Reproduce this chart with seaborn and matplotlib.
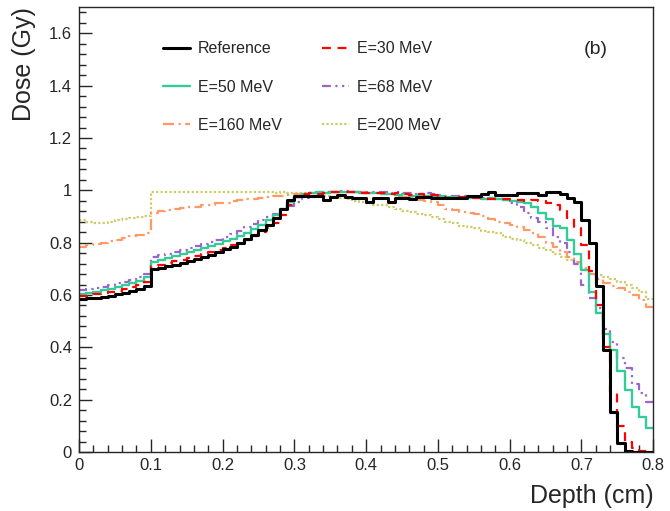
import numpy as np
import pandas as pd
import matplotlib
matplotlib.use('Agg')
import matplotlib.pyplot as plt
from matplotlib.lines import Line2D
from matplotlib.ticker import MultipleLocator, FormatStrFormatter
import seaborn as sns

# Binning: 80 bins of 0.01 cm between 0 and 0.8 cm
n_bins = 80
depth_range = (0, 0.8)
bin_centers = np.arange(n_bins) * 0.01 + 0.005

# Dose per bin (Gy)
dose_reference = [0.585, 0.588, 0.590, 0.594, 0.598, 0.603, 0.608, 0.614, 0.622, 0.633,
                  0.698, 0.703, 0.710, 0.716, 0.722, 0.730, 0.737, 0.745, 0.753, 0.764,
                  0.775, 0.785, 0.800, 0.815, 0.830, 0.848, 0.868, 0.895, 0.930, 0.962,
                  0.977, 0.977, 0.977, 0.977, 0.962, 0.974, 0.981, 0.975, 0.970, 0.970,
                  0.955, 0.970, 0.970, 0.955, 0.970, 0.970, 0.968, 0.974, 0.974, 0.972,
                  0.970, 0.972, 0.970, 0.972, 0.980, 0.980, 0.985, 0.993, 0.981, 0.981,
                  0.983, 0.988, 0.988, 0.988, 0.981, 0.993, 0.993, 0.985, 0.970, 0.955,
                  0.886, 0.797, 0.634, 0.389, 0.154, 0.035, 0.005, 0.0, 0.0, 0.0]
dose_30 = [0.595, 0.598, 0.602, 0.606, 0.611, 0.616, 0.622, 0.630, 0.638, 0.648,
           0.712, 0.716, 0.722, 0.728, 0.735, 0.742, 0.750, 0.757, 0.765, 0.772,
           0.780, 0.790, 0.800, 0.812, 0.825, 0.840, 0.855, 0.875, 0.905, 0.945,
           0.975, 0.985, 0.990, 0.985, 0.990, 0.992, 0.995, 0.993, 0.992, 0.990,
           0.990, 0.988, 0.990, 0.985, 0.988, 0.985, 0.983, 0.985, 0.980, 0.982,
           0.975, 0.972, 0.972, 0.975, 0.970, 0.972, 0.968, 0.968, 0.965, 0.965,
           0.962, 0.962, 0.960, 0.962, 0.960, 0.950, 0.945, 0.925, 0.895, 0.855,
           0.790, 0.690, 0.560, 0.400, 0.230, 0.100, 0.040, 0.015, 0.005, 0.002]
dose_50 = [0.605, 0.608, 0.612, 0.618, 0.624, 0.630, 0.638, 0.646, 0.655, 0.668,
           0.726, 0.733, 0.740, 0.748, 0.756, 0.765, 0.772, 0.780, 0.788, 0.796,
           0.805, 0.815, 0.826, 0.838, 0.852, 0.866, 0.885, 0.905, 0.930, 0.955,
           0.975, 0.985, 0.990, 0.992, 0.990, 0.995, 0.995, 0.993, 0.992, 0.990,
           0.988, 0.990, 0.985, 0.985, 0.983, 0.985, 0.980, 0.982, 0.980, 0.978,
           0.978, 0.975, 0.975, 0.972, 0.970, 0.970, 0.968, 0.970, 0.965, 0.962,
           0.960, 0.955, 0.950, 0.935, 0.915, 0.890, 0.862, 0.855, 0.810, 0.755,
           0.695, 0.610, 0.530, 0.450, 0.390, 0.310, 0.237, 0.173, 0.135, 0.090]
dose_68 = [0.618, 0.622, 0.627, 0.632, 0.638, 0.645, 0.651, 0.658, 0.668, 0.680,
           0.745, 0.752, 0.758, 0.765, 0.772, 0.779, 0.786, 0.794, 0.802, 0.812,
           0.822, 0.833, 0.845, 0.858, 0.872, 0.885, 0.898, 0.910, 0.925, 0.940,
           0.955, 0.970, 0.980, 0.988, 0.992, 0.995, 0.998, 0.998, 0.995, 0.995,
           0.995, 0.992, 0.995, 0.990, 0.992, 0.990, 0.988, 0.985, 0.988, 0.985,
           0.983, 0.980, 0.980, 0.978, 0.975, 0.975, 0.972, 0.970, 0.968, 0.962,
           0.950, 0.935, 0.915, 0.895, 0.880, 0.855, 0.820, 0.800, 0.765, 0.720,
           0.640, 0.590, 0.550, 0.470, 0.420, 0.360, 0.320, 0.260, 0.225, 0.190]
dose_160 = [0.785, 0.790, 0.795, 0.800, 0.806, 0.812, 0.818, 0.824, 0.830, 0.835,
            0.915, 0.920, 0.925, 0.930, 0.932, 0.935, 0.938, 0.942, 0.945, 0.950,
            0.953, 0.958, 0.962, 0.965, 0.968, 0.972, 0.975, 0.977, 0.980, 0.982,
            0.985, 0.987, 0.988, 0.990, 0.992, 0.993, 0.993, 0.995, 0.993, 0.993,
            0.990, 0.990, 0.985, 0.985, 0.980, 0.975, 0.970, 0.962, 0.958, 0.955,
            0.945, 0.930, 0.924, 0.918, 0.912, 0.908, 0.900, 0.890, 0.880, 0.875,
            0.866, 0.860, 0.850, 0.835, 0.820, 0.800, 0.785, 0.765, 0.745, 0.725,
            0.700, 0.680, 0.660, 0.645, 0.635, 0.625, 0.610, 0.600, 0.580, 0.555]
dose_200 = [0.886, 0.880, 0.875, 0.874, 0.880, 0.885, 0.890, 0.895, 0.897, 0.900,
            0.995, 0.993, 0.992, 0.995, 0.993, 0.995, 0.993, 0.992, 0.995, 0.993,
            0.995, 0.995, 0.993, 0.992, 0.995, 0.995, 0.993, 0.990, 0.992, 0.990,
            0.990, 0.990, 0.988, 0.985, 0.980, 0.975, 0.970, 0.968, 0.960, 0.955,
            0.950, 0.945, 0.942, 0.935, 0.930, 0.922, 0.916, 0.910, 0.905, 0.897,
            0.890, 0.880, 0.874, 0.865, 0.858, 0.855, 0.845, 0.840, 0.835, 0.820,
            0.815, 0.810, 0.800, 0.790, 0.780, 0.770, 0.755, 0.745, 0.735, 0.720,
            0.705, 0.690, 0.678, 0.670, 0.660, 0.650, 0.640, 0.625, 0.610, 0.585]

labels = ['Reference', 'E=30 MeV', 'E=50 MeV', 'E=68 MeV', 'E=160 MeV', 'E=200 MeV']
series = [dose_reference, dose_30, dose_50, dose_68, dose_160, dose_200]

# Line styles (ROOT look)
colors = ['black', '#FF0000', '#33CC99', '#9966CC', '#FF9966', '#CCCC66']
styles = ['-', (0, (4, 3)), '-', (0, (4, 2, 1, 2, 1, 2)), (0, (5, 2, 1, 2)), (0, (1, 1))]
widths = [2.2, 1.6, 1.7, 1.6, 1.6, 1.6]

sns.set_style('ticks')
plt.rcParams['font.family'] = ['Liberation Sans', 'DejaVu Sans']

fig = plt.figure(figsize=(6.7, 5.11), dpi=100)
ax = fig.add_axes([0.118, 0.1155, 0.857, 0.8705])

# Histograms drawn back to front, reference on top
order = [5, 4, 3, 2, 1, 0]
for k in order:
    df = pd.DataFrame({'depth': bin_centers, 'dose': series[k]})
    sns.histplot(data=df, x='depth', weights='dose', bins=n_bins, binrange=depth_range,
                 element='step', fill=False, color=colors[k], linestyle=styles[k],
                 linewidth=widths[k], ax=ax)

ax.set_xlim(0, 0.8)
ax.set_ylim(0, 1.7)

# Axes and ticks
ax.xaxis.set_major_locator(MultipleLocator(0.1))
ax.xaxis.set_minor_locator(MultipleLocator(0.02))
ax.yaxis.set_major_locator(MultipleLocator(0.2))
ax.yaxis.set_minor_locator(MultipleLocator(0.04))
ax.xaxis.set_major_formatter(FormatStrFormatter('%g'))
ax.yaxis.set_major_formatter(FormatStrFormatter('%g'))
ax.tick_params(which='both', direction='in', top=False, right=False, labelsize=12, width=1)
ax.tick_params(axis='x', which='major', length=9.5, pad=4)
ax.tick_params(axis='x', which='minor', length=4.7)
ax.tick_params(axis='y', which='major', length=9.5, pad=5)
ax.tick_params(axis='y', which='minor', length=4.7)
for s in ax.spines.values():
    s.set_linewidth(1)

ax.set_xlabel('Depth (cm)', fontsize=18, loc='right', labelpad=8)
ax.set_ylabel('Dose (Gy)', fontsize=18, loc='top', labelpad=9)

# Legend, two columns, no frame
handles = [Line2D([], [], color=colors[k], linestyle=styles[k], linewidth=widths[k]) for k in range(6)]
leg_order = [0, 2, 4, 1, 3, 5]
ax.legend([handles[k] for k in leg_order], [labels[k] for k in leg_order], ncol=2,
          frameon=False, fontsize=11.5, loc='upper left', bbox_to_anchor=(0.146, 0.923),
          borderaxespad=0, borderpad=0, handlelength=1.7, handletextpad=0.5,
          labelspacing=1.45, columnspacing=2.5)

ax.text(0.9, 0.905, '(b)', transform=ax.transAxes, fontsize=14, ha='center', va='center')

fig.savefig('out.png', dpi=100)
